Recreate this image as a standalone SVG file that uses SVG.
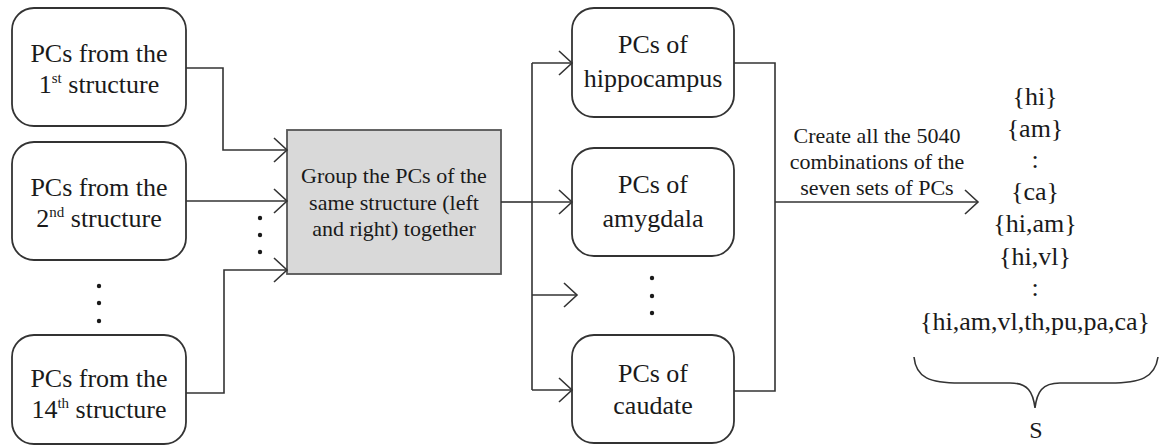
<svg xmlns="http://www.w3.org/2000/svg" width="1159" height="446" viewBox="0 0 1159 446">
<defs>
<marker id="arr" markerUnits="userSpaceOnUse" markerWidth="30" markerHeight="30" viewBox="-15 -15 30 30" refX="0" refY="0" orient="auto" overflow="visible">
<path d="M-13,-12 L0,0 L-13,12" fill="none" stroke="#333" stroke-width="1.6"/>
</marker>
</defs>
<style>
.box{fill:#fff;stroke:#333;stroke-width:1.8}
.gray{fill:#d9d9d9;stroke:#555;stroke-width:1.8}
.t{font-family:"Liberation Serif","Times New Roman",serif;font-size:26px;fill:#1a1a1a;text-anchor:middle}
.s{font-family:"Liberation Serif","Times New Roman",serif;font-size:22px;fill:#1a1a1a;text-anchor:middle}
.sup{font-size:15px}
.ln{fill:none;stroke:#333;stroke-width:1.6}
.dot{fill:#1a1a1a}
</style>
<rect width="1159" height="446" fill="#fff"/>
<g id="n1">
<rect class="box" x="12" y="8" width="174" height="118" rx="22"/>
<text class="t" x="99" y="62">PCs from the</text>
<text class="t" x="99" y="93">1<tspan class="sup" dy="-10">st</tspan><tspan dy="10"> structure</tspan></text>
</g>
<g id="n2">
<rect class="box" x="12" y="142" width="174" height="118" rx="22"/>
<text class="t" x="99" y="196">PCs from the</text>
<text class="t" x="99" y="227">2<tspan class="sup" dy="-10">nd</tspan><tspan dy="10"> structure</tspan></text>
</g>
<g id="n3">
<rect class="box" x="12" y="335" width="174" height="109" rx="22"/>
<text class="t" x="99" y="387">PCs from the</text>
<text class="t" x="99" y="418">14<tspan class="sup" dy="-10">th</tspan><tspan dy="10"> structure</tspan></text>
</g>
<g id="dots-left">
<circle class="dot" cx="99" cy="286" r="2.2"/>
<circle class="dot" cx="99" cy="303" r="2.2"/>
<circle class="dot" cx="99" cy="321" r="2.2"/>
<circle class="dot" cx="260" cy="218" r="2.2"/>
<circle class="dot" cx="260" cy="235" r="2.2"/>
<circle class="dot" cx="260" cy="252" r="2.2"/>
</g>
<g id="group">
<rect class="gray" x="287" y="130" width="214" height="144"/>
<text class="s" x="394" y="183">Group the PCs of the</text>
<text class="s" x="394" y="210">same structure (left</text>
<text class="s" x="394" y="236">and right) together</text>
</g>
<g id="hi">
<rect class="box" x="572" y="8" width="162" height="109" rx="22"/>
<text class="t" x="653" y="53">PCs of</text>
<text class="t" x="653" y="87">hippocampus</text>
</g>
<g id="am">
<rect class="box" x="572" y="148" width="162" height="108" rx="22"/>
<text class="t" x="653" y="193">PCs of</text>
<text class="t" x="653" y="227">amygdala</text>
</g>
<g id="ca">
<rect class="box" x="572" y="335" width="162" height="108" rx="22"/>
<text class="t" x="653" y="382">PCs of</text>
<text class="t" x="653" y="414">caudate</text>
</g>
<g id="dots-right">
<circle class="dot" cx="652" cy="278" r="2.2"/>
<circle class="dot" cx="652" cy="296" r="2.2"/>
<circle class="dot" cx="652" cy="313" r="2.2"/>
</g>
<g id="connectors">
<path class="ln" d="M186,68 H223 V150 H287" marker-end="url(#arr)"/>
<path class="ln" d="M186,201 H287" marker-end="url(#arr)"/>
<path class="ln" d="M186,393 H224 V270 H287" marker-end="url(#arr)"/>
<path class="ln" d="M501,202 H532"/>
<path class="ln" d="M532,63 V390"/>
<path class="ln" d="M532,63 H572" marker-end="url(#arr)"/>
<path class="ln" d="M532,202 H572" marker-end="url(#arr)"/>
<path class="ln" d="M532,295 H577" marker-end="url(#arr)"/>
<path class="ln" d="M532,390 H572" marker-end="url(#arr)"/>
<path class="ln" d="M734,63 H775 V391 H734"/>
<path class="ln" d="M775,202 H978" marker-end="url(#arr)"/>
<text class="s" x="877" y="143">Create all the 5040</text>
<text class="s" x="877" y="169">combinations of the</text>
<text class="s" x="877" y="195">seven sets of PCs</text>
</g>
<g id="sets">
<text class="t" x="1035" y="105">{hi}</text>
<text class="t" x="1035" y="137">{am}</text>
<text class="t" x="1035" y="168">:</text>
<text class="t" x="1035" y="200">{ca}</text>
<text class="t" x="1035" y="232">{hi,am}</text>
<text class="t" x="1035" y="265">{hi,vl}</text>
<text class="t" x="1035" y="296">:</text>
<text class="t" x="1035" y="330">{hi,am,vl,th,pu,pa,ca}</text>
<path class="ln" d="M914,357 C916,378 930,383 960,383 L1010,383 C1028,383 1033,392 1035,408 C1037,392 1042,383 1060,383 L1110,383 C1140,383 1155,378 1158,357"/>
<text class="t" x="1036" y="438" style="font-size:24px">S</text>
</g>
</svg>
